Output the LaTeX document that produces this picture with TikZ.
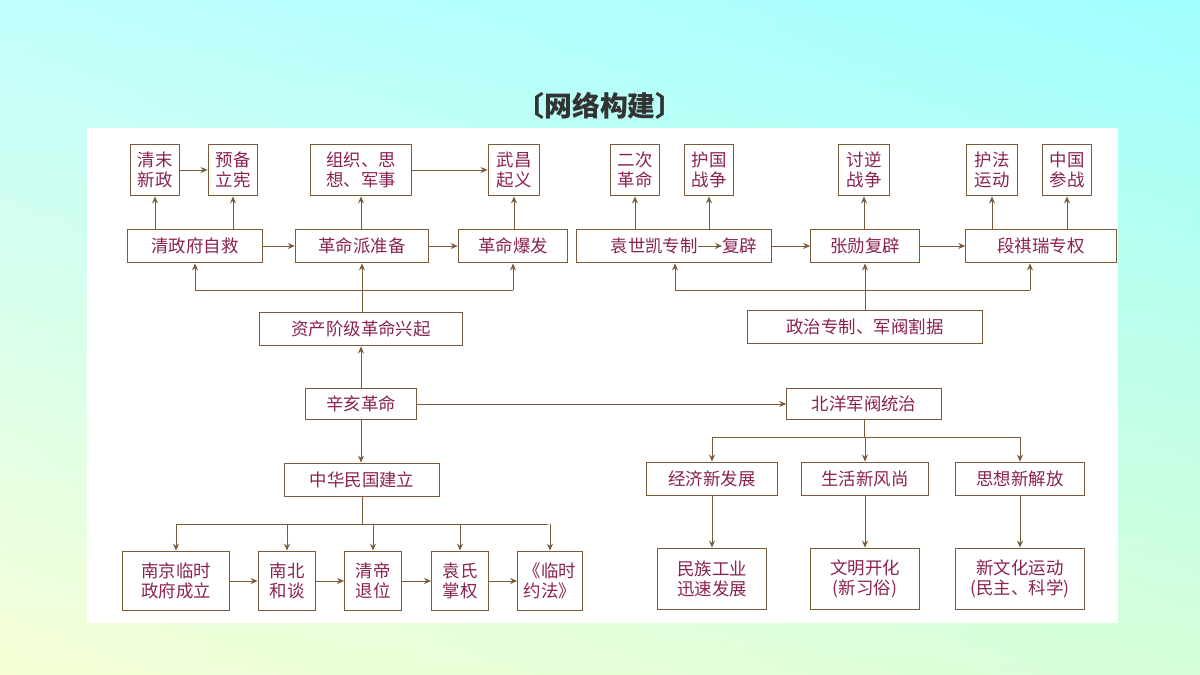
\documentclass[tikz,border=0pt]{standalone}
\usepackage{fontspec}
\setmainfont{Noto Sans CJK SC}
\usetikzlibrary{arrows.meta}
\definecolor{bord}{HTML}{7A5C3C}
\definecolor{txt}{HTML}{8B2252}
\begin{document}
\begin{tikzpicture}[x=1bp,y=-1bp,
 bx/.style={draw=bord,line width=1pt,fill=white,text=txt,font=\fontsize{17.5}{19.5}\selectfont,inner sep=0pt,align=center,minimum height=#1},
 bx/.default=34,
 ar/.style={draw=bord,line width=1pt,-{Stealth[length=7pt,width=6pt]}},
 ln/.style={draw=bord,line width=1pt}]
\useasboundingbox (0,0) rectangle (1200,675);
\shade[left color=yellow!15!cyan!10, right color=cyan!40] (0,0) rectangle (1200,675);
\shade[top color=cyan!35,bottom color=yellow!25,opacity=0.6] (0,0) rectangle (1200,675);
\fill[white] (87,128) rectangle (1118,623);
\node[font=\bfseries\fontsize{28}{30}\selectfont,text=black!80] (title) at (600,106) {〔网络构建〕};
% row1
\node[bx=52,minimum width=50] (a1) at (155,170) {清末\\新政};
\node[bx=52,minimum width=50] (a2) at (233,170) {预备\\立宪};
\node[bx=52,minimum width=102] (a3) at (361,170) {组织、思\\想、军事};
\node[bx=52,minimum width=52] (a4) at (514,170) {武昌\\起义};
\node[bx=52,minimum width=50] (a5) at (635,170) {二次\\革命};
\node[bx=52,minimum width=50] (a6) at (709,170) {护国\\战争};
\node[bx=52,minimum width=52] (a7) at (864,170) {讨逆\\战争};
\node[bx=52,minimum width=51] (a8) at (992,170) {护法\\运动};
\node[bx=52,minimum width=50] (a9) at (1067,170) {中国\\参战};
% row2
\node[bx,minimum width=135] (b1) at (195,246) {清政府自救};
\node[bx,minimum width=134] (b2) at (362,246) {革命派准备};
\node[bx,minimum width=110] (b3) at (513,246) {革命爆发};
\node[bx,minimum width=196] (b4) at (674,246) {};
\node[text=txt,font=\fontsize{17.5}{19.5}\selectfont,inner sep=0pt,anchor=east] (b4l) at (698,246) {袁世凯专制};
\node[text=txt,font=\fontsize{17.5}{19.5}\selectfont,inner sep=0pt,anchor=west] (b4r) at (722,246) {复辟};
\draw[ar] (b4l.east) -- (b4r.west);
\node[bx,minimum width=109] (b5) at (865,246) {张勋复辟};
\node[bx,minimum width=151] (b6) at (1041,246) {段祺瑞专权};
\foreach \s/\t in {a1/a2,a3/a4,b1/b2,b2/b3,b4/b5,b5/b6} \draw[ar] (\s) -- (\t);
\draw[ar] (b1.north -| a1) -- (a1);
\draw[ar] (b1.north -| a2) -- (a2);
\draw[ar] (b2.north -| a3) -- (a3);
\draw[ar] (b3.north -| a4) -- (a4);
\draw[ar] (b4.north -| a5) -- (a5);
\draw[ar] (b4.north -| a6) -- (a6);
\draw[ar] (b5.north -| a7) -- (a7);
\draw[ar] (b6.north -| a8) -- (a8);
\draw[ar] (b6.north -| a9) -- (a9);
% middle
\node[bx,minimum width=203] (c1) at (361,329) {资产阶级革命兴起};
\node[bx,minimum width=236] (c2) at (865,327) {政治专制、军阀割据};
\node[bx,minimum width=111,minimum height=32] (d1) at (361,404) {辛亥革命};
\node[bx,minimum width=155,minimum height=32] (d2) at (864,404) {北洋军阀统治};
\node[bx,minimum width=155] (e1) at (362,480) {中华民国建立};
\coordinate (l1) at (195,290); \coordinate (r1) at (513,290);
\coordinate (l2) at (675,290); \coordinate (r2) at (1030,290);
\draw[ln] (l1) -- (r1); \draw[ln] (l2) -- (r2);
\draw[ar] (l1) -- (b1.south -| l1);
\draw[ar] (r1) -- (b3.south -| r1);
\draw[ar] (c1.north -| b2) -- (b2.south);
\draw[ar] (l2) -- (b4.south -| l2);
\draw[ar] (r2) -- (b6.south -| r2);
\draw[ar] (c2.north) -- (b5.south);
\draw[ar] (d1) -- (c1);
\draw[ar] (d1) -- (e1.north -| d1);
\draw[ar] (d1) -- (d2);
% bottom left
\node[bx=60,minimum width=108] (f1) at (176,581) {南京临时\\政府成立};
\node[bx=60,minimum width=58] (f2) at (287,581) {南北\\和谈};
\node[bx=60,minimum width=57] (f3) at (373,581) {清帝\\退位};
\node[bx=60,minimum width=57] (f4) at (460,581) {袁氏\\掌权};
\node[bx=60,minimum width=65] (f5) at (550,581) {《临时\\约法》};
\coordinate (bl) at (177,524); \coordinate (br) at (548,524);
\draw[ln] (bl) -- (br);
\draw[ln] (e1.south) -- (e1.south |- bl);
\foreach \n in {f1,f2,f3,f4,f5} \draw[ar] (bl -| \n) -- (\n.north);
\foreach \s/\t in {f1/f2,f2/f3,f3/f4,f4/f5} \draw[ar] (\s) -- (\t);
% bottom right
\node[bx,minimum width=131] (g1) at (712,479) {经济新发展};
\node[bx,minimum width=127] (g2) at (865,479) {生活新风尚};
\node[bx,minimum width=129] (g3) at (1020,479) {思想新解放};
\node[bx=62,minimum width=109] (h1) at (712,579) {民族工业\\迅速发展};
\node[bx=62,minimum width=109] (h2) at (865,579) {文明开化\\(新习俗)};
\node[bx=62,minimum width=130] (h3) at (1020,579) {新文化运动\\(民主、科学)};
\coordinate (ml) at (712,437); \coordinate (mr) at (1020,437);
\draw[ln] (ml) -- (mr);
\draw[ln] (d2.south) -- (d2.south |- ml);
\foreach \n in {g1,g2,g3} \draw[ar] (ml -| \n) -- (\n.north);
\draw[ar] (g1) -- (h1); \draw[ar] (g2) -- (h2); \draw[ar] (g3) -- (h3);
\end{tikzpicture}
\end{document}
